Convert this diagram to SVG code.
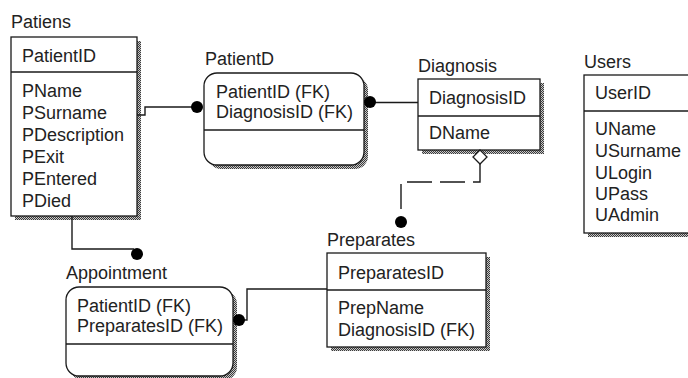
<svg xmlns="http://www.w3.org/2000/svg" width="688" height="378" viewBox="0 0 688 378">
<defs>
<pattern id="stip" width="2" height="2" patternUnits="userSpaceOnUse">
<rect width="2" height="2" fill="#c8c8c8"/>
<rect width="1" height="1" fill="#3a3a3a"/>
<rect x="1" y="1" width="1" height="1" fill="#3a3a3a"/>
</pattern>
</defs>
<style>
text{font-family:"Liberation Sans",Arial,sans-serif;font-size:18px;fill:#222}
.box{fill:#fff;stroke:#1a1a1a;stroke-width:1.3}
.sh{fill:url(#stip)}
.div{stroke:#1a1a1a;stroke-width:1.3}
.ln{fill:none;stroke:#1a1a1a;stroke-width:1.4}
.dash{fill:none;stroke:#1a1a1a;stroke-width:1.4;stroke-dasharray:25 8}
.dot{fill:#000}
</style>
<rect width="688" height="378" fill="#fff"/>

<g id="Patiens">
<text x="11" y="28">Patiens</text>
<rect class="sh" x="15" y="41" width="126" height="179"/>
<rect class="box" x="11" y="37" width="126" height="179"/>
<line class="div" x1="11" y1="72" x2="137" y2="72"/>
<text x="22" y="62">PatientID</text>
<text x="22" y="97">PName</text>
<text x="22" y="119">PSurname</text>
<text x="22" y="141">PDescription</text>
<text x="22" y="163">PExit</text>
<text x="22" y="185">PEntered</text>
<text x="22" y="207">PDied</text>
</g>

<g id="PatientD">
<text x="205" y="65">PatientD</text>
<rect class="sh" x="208" y="77" width="160" height="92" rx="13"/>
<rect class="box" x="204" y="73" width="160" height="92" rx="13"/>
<line class="div" x1="204" y1="130" x2="364" y2="130"/>
<text x="216" y="98">PatientID (FK)</text>
<text x="216" y="118">DiagnosisID (FK)</text>
</g>

<g id="Diagnosis">
<text x="418" y="72">Diagnosis</text>
<rect class="sh" x="422" y="83" width="122" height="71"/>
<rect class="box" x="418" y="79" width="122" height="71"/>
<line class="div" x1="418" y1="116" x2="540" y2="116"/>
<text x="429" y="104">DiagnosisID</text>
<text x="429" y="139">DName</text>
</g>

<g id="Users">
<text x="584" y="68">Users</text>
<rect class="sh" x="588" y="79" width="120" height="158"/>
<rect class="box" x="584" y="75" width="120" height="158"/>
<line class="div" x1="584" y1="111" x2="704" y2="111"/>
<text x="595" y="99">UserID</text>
<text x="595" y="135">UName</text>
<text x="595" y="157">USurname</text>
<text x="595" y="179">ULogin</text>
<text x="595" y="200">UPass</text>
<text x="595" y="221">UAdmin</text>
</g>

<g id="Preparates">
<text x="327" y="246">Preparates</text>
<rect class="sh" x="331" y="257" width="159" height="94"/>
<rect class="box" x="327" y="253" width="159" height="94"/>
<line class="div" x1="327" y1="290" x2="486" y2="290"/>
<text x="338" y="279">PreparatesID</text>
<text x="338" y="314">PrepName</text>
<text x="338" y="336">DiagnosisID (FK)</text>
</g>

<g id="Appointment">
<text x="66" y="279">Appointment</text>
<rect class="sh" x="70" y="291" width="167" height="89" rx="13"/>
<rect class="box" x="66" y="287" width="167" height="89" rx="13"/>
<line class="div" x1="66" y1="344" x2="233" y2="344"/>
<text x="77" y="312">PatientID (FK)</text>
<text x="77" y="332">PreparatesID (FK)</text>
</g>

<g id="connectors">
<path class="ln" d="M137,115 H145 V107 H194"/>
<circle class="dot" cx="197" cy="107" r="6"/>
<path class="ln" d="M372,102.5 H418"/>
<circle class="dot" cx="370" cy="102" r="6"/>
<path class="dash" d="M480,164 V182 H401 V216"/>
<path d="M480,150 L487,157 L480,164 L473,157 Z" fill="#fff" stroke="#1a1a1a" stroke-width="1.3"/>
<circle class="dot" cx="401" cy="222" r="6"/>
<path class="ln" d="M72,216 V249 H134"/>
<circle class="dot" cx="137" cy="254" r="6"/>
<path class="ln" d="M241,320 H247 V289 H327"/>
<circle class="dot" cx="239" cy="320" r="6"/>
</g>
</svg>
